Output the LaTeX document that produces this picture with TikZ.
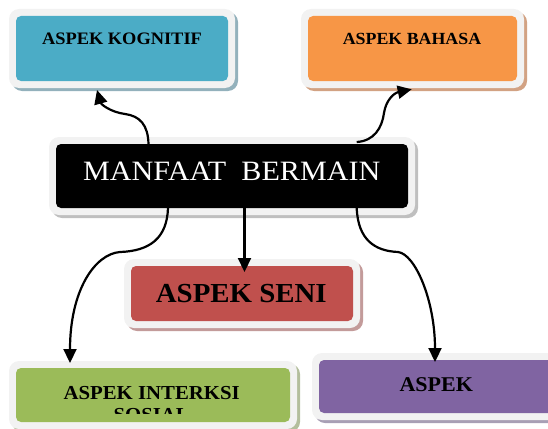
\documentclass[tikz,border=0pt]{standalone}
\usepackage{fontspec}
\setmainfont{Liberation Serif}
\newfontfamily\bfam[FakeStretch=1.05]{Liberation Serif}
\newfontfamily\mfam[FakeStretch=1.076]{Liberation Serif}
\usetikzlibrary{arrows.meta,calc,backgrounds}
\definecolor{frm}{HTML}{F2F2F2}
\definecolor{cblue}{HTML}{4BACC6}
\definecolor{sblue}{HTML}{93B1BC}
\definecolor{corange}{HTML}{F79646}
\definecolor{sorange}{HTML}{D2A283}
\definecolor{cred}{HTML}{C0504D}
\definecolor{sred}{HTML}{C39B9A}
\definecolor{cgreen}{HTML}{9BBB59}
\definecolor{sgreen}{HTML}{B3BE9C}
\definecolor{cpurple}{HTML}{8064A2}
\definecolor{spurple}{HTML}{A89FB5}
\definecolor{sgray}{HTML}{BFBFBF}
\newcommand\myframeof[2]{%
  \begin{scope}[on background layer]
    \fill[#2,rounded corners=10pt] ($(#1.south west)+(-4,10)$) rectangle ($(#1.north east)+(10,-4)$);
    \fill[frm,rounded corners=10pt] ($(#1.south west)+(-7,7)$) rectangle ($(#1.north east)+(7,-7)$);
  \end{scope}}
\tikzset{
  aspbox/.style={rectangle,rounded corners=5pt,inner sep=0pt,outer sep=0pt},
  lbl/.style={anchor=base,inner sep=0pt,text=black,font=\bfam\bfseries},
  conn/.style={line width=2.2pt,-{Triangle[length=14pt,width=13pt]}}
}
\begin{document}
\begin{tikzpicture}[x=1pt,y=-1pt]
\useasboundingbox (0,0) rectangle (548,428);
% boxes
\node[aspbox,fill=cblue,minimum width=212pt,minimum height=65pt] (kog) at (122,48.5) {};
\node[aspbox,fill=corange,minimum width=209pt,minimum height=65pt] (bah) at (412.5,48.5) {};
\node[aspbox,fill=black,minimum width=352pt,minimum height=64pt] (main) at (232,176) {};
\node[aspbox,fill=cred,minimum width=222pt,minimum height=55pt] (seni) at (242,293.5) {};
\node[aspbox,fill=cgreen,minimum width=274pt,minimum height=54pt] (sos) at (153,395) {};
\node[aspbox,fill=cpurple,minimum width=234pt,minimum height=53pt] (pur) at (436,386.5) {};
\myframeof{kog}{sblue}
\myframeof{bah}{sorange}
\myframeof{main}{sgray}
\myframeof{seni}{sred}
\myframeof{sos}{sgreen}
\myframeof{pur}{spurple}
% texts
\node[lbl,font=\bfam\bfseries\fontsize{17.5}{20}\selectfont] (kogt) at (122,44.3) {ASPEK KOGNITIF};
\node[lbl,font=\bfam\bfseries\fontsize{17}{20}\selectfont] (baht) at (412,44.3) {ASPEK BAHASA};
\node[anchor=base,inner sep=0pt,text=white,font=\mfam\fontsize{28}{32}\selectfont] (maint) at (231.7,180.7) {MANFAAT\ \ BERMAIN};
\node[lbl,font=\bfam\bfseries\fontsize{27.5}{30}\selectfont] (senit) at (241.3,302.7) {ASPEK SENI};
\node[lbl,font=\bfam\bfseries\fontsize{19.8}{22}\selectfont] (sost) at (151.7,399.3) {ASPEK INTERKSI};
\begin{scope}
  \clip (16,360) rectangle (290,413.3);
  \node[lbl,font=\bfam\bfseries\fontsize{19.8}{22}\selectfont] (sost2) at (151.7,421.2) {SOSIAL};
\end{scope}
\node[lbl,font=\bfam\bfseries\fontsize{21}{24}\selectfont] (purt) at (436.3,391.7) {ASPEK};
% connectors
\draw[conn] ($(main.north west)+(92.5,0)$) .. controls (148,125) and (140,116) .. (125,114)
  .. controls (110,112) and (101,104) .. ($(kog.south west)+(81,9)$);
\draw[conn] ($(main.north west)+(300.7,-2)$) .. controls (374,141) and (382,128) .. (384,113)
  .. controls (386,100) and (394,93) .. ($(bah.south west)+(103.7,8.3)$);
\draw[conn] ($(main.south west)+(112,0)$) .. controls (167,238) and (150,251) .. (120,252)
  .. controls (95,254) and (70,290) .. ($(sos.north west)+(54,-5)$);
\draw[conn] ($(main.south west)+(188.5,0)$) -- ($(seni.north west)+(113.5,6)$);
\draw[conn] ($(main.south west)+(300.7,0)$) .. controls (358,240) and (375,251) .. (398,252)
  .. controls (415,254) and (435,300) .. ($(pur.north west)+(116,2)$);
\end{tikzpicture}
\end{document}
